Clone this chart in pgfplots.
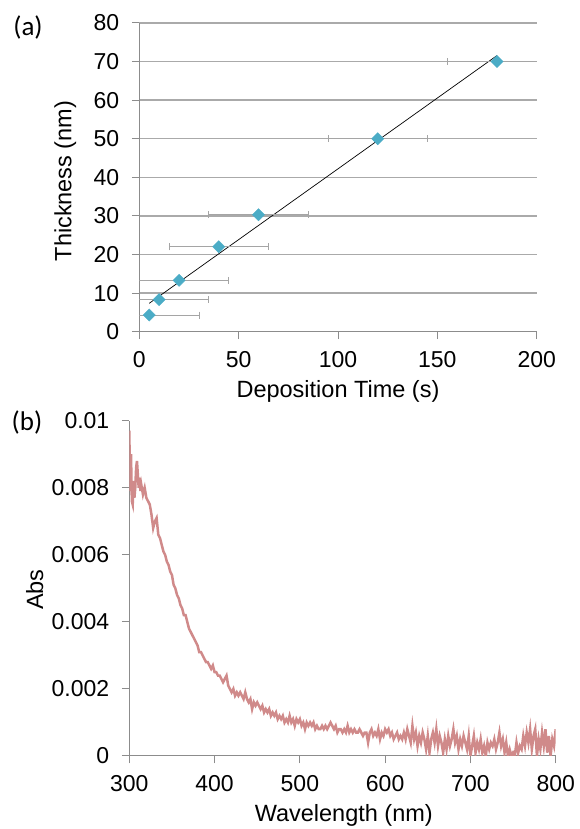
\documentclass[border=0pt]{standalone}
\usepackage{fontspec}
\setmainfont{Liberation Sans}
\newfontfamily\calibri{Carlito}
\usepackage{pgfplots}
\pgfplotsset{compat=1.18}
\definecolor{mkblue}{RGB}{75,172,198}
\definecolor{spec}{RGB}{208,138,138}
\definecolor{gridgray}{RGB}{170,170,170}
\definecolor{axgray}{RGB}{140,140,140}
\definecolor{errgray}{RGB}{165,165,165}
\begin{document}
\begin{tikzpicture}
\useasboundingbox (0,0) rectangle (579pt,829pt);
% ---------- (a) ----------
\begin{axis}[
  at={(139.3pt,497.3pt)}, anchor=south west,
  scale only axis, width=397.4pt, height=308.8pt,
  xmin=0, xmax=200, ymin=0, ymax=80,
  xtick={0,50,100,150,200}, ytick={0,10,...,80},
  axis lines*=left,
  axis line style={axgray, line width=1pt},
  tick style={axgray, line width=1pt},
  tick align=outside, major tick length=7.5pt,
  ymajorgrids, grid style={gridgray, line width=1.5pt},
  /pgf/number format/assume math mode=true,
  tick label style={font=\fontsize{23}{27}\selectfont},
  xticklabel style={yshift=-9pt},
  yticklabel style={xshift=-9pt},
  xlabel={Deposition Time (s)},
  ylabel={Thickness (nm)},
  label style={font=\fontsize{23.5}{27}\selectfont},
  xlabel style={at={(axis description cs:0.5,-0.195)}, anchor=center},
  ylabel style={at={(axis description cs:-0.186,0.488)}, anchor=center},
  clip mode=individual,
]
\addplot[black, line width=0.7pt, no marks] coordinates {(5,7.35) (180,71.54)};
\addplot[only marks, mark=square*, mark size=4.3pt,
  mark options={rotate=45, fill=mkblue, draw=mkblue},
  error bars/.cd, x dir=both, x explicit,
  error bar style={errgray, line width=0.8pt},
  error mark options={errgray, line width=0.8pt, mark size=3.5pt, rotate=90}]
coordinates {
 (5,4.3) +- (25,0)
 (10,8.3) +- (25,0)
 (20,13.3) +- (25,0)
 (40,22) +- (25,0)
 (60,30.3) +- (25,0)
 (120,50) +- (25,0)
 (180,70) +- (25,0)
};
\end{axis}
\node[font=\calibri\fontsize{27}{30}\selectfont] at (28pt,801pt) {(a)};
% ---------- (b) ----------
\begin{axis}[
  at={(129.3pt,73pt)}, anchor=south west,
  scale only axis, width=426.4pt, height=335.3pt,
  xmin=300, xmax=800, ymin=0, ymax=0.01,
  xtick={300,400,...,800},
  ytick={0,0.002,0.004,0.006,0.008,0.01},
  yticklabels={0,0.002,0.004,0.006,0.008,0.01},
  scaled y ticks=false,
  axis lines*=left,
  axis line style={axgray, line width=1pt},
  tick style={axgray, line width=1pt},
  tick align=outside, major tick length=7.5pt,
  /pgf/number format/assume math mode=true,
  tick label style={font=\fontsize{23}{27}\selectfont},
  xticklabel style={yshift=-8pt},
  yticklabel style={xshift=-9pt},
  xlabel={Wavelength (nm)},
  ylabel={Abs},
  label style={font=\fontsize{23.5}{27}\selectfont},
  xlabel style={at={(axis description cs:0.503,-0.178)}, anchor=center},
  ylabel style={at={(axis description cs:-0.222,0.496)}, anchor=center},
]
\addplot[spec, line width=2.5pt, no marks] coordinates {
(300,0.0097)(301,0.0079)(302,0.0090)(303,0.0076)(304,0.0075)(305,0.0082)(306,0.0077)(307,0.0080)(308,0.0086)(309,0.0088)
(310,0.0084)(311,0.0080)(312,0.0083)(313,0.0079)(314,0.0081)(316,0.0078)(318,0.0080)(320,0.0077)(322,0.0076)(324,0.0075)
(326,0.0072)(328,0.0068)(330,0.0070)(332,0.0071)(334,0.0066)(336,0.0065)(338,0.0063)(340,0.0061)(342,0.0060)(344,0.0058)
(346,0.0057)(348,0.0055)(350,0.0054)(352,0.0051)(354,0.0050)(356,0.0048)(358,0.0047)(360,0.0045)(362,0.0044)(364,0.0042)
(366,0.0042)(368,0.0040)(370,0.0038)(372,0.0037)(374,0.0036)(376,0.0035)(378,0.0034)(380,0.0033)(382,0.0031)(384,0.0031)
(386,0.0030)(388,0.0029)(390,0.0028)(392,0.0028)(394,0.0027)(396,0.0026)(398,0.0027)(400,0.0025)(402,0.0025)(404,0.0024)
(406,0.0024)(408,0.0023)(410,0.0022)(412,0.0023)(414,0.0024)(416,0.0021)(418,0.0020)(420,0.0019)(422,0.0020)(424,0.0018)
(426,0.0019)(428,0.0018)(430,0.0019)(432,0.0018)(434,0.0017)(436,0.0019)(438,0.0017)(440,0.0016)(442,0.0017)(444,0.0014)
(446,0.0016)(448,0.0015)(450,0.0016)(452,0.0015)(454,0.0014)(456,0.0015)(458,0.0013)(460,0.0014)(462,0.0013)(464,0.0014)
(466,0.0012)(468,0.0013)(470,0.0012)(472,0.0013)(474,0.0011)(476,0.0012)(478,0.0011)(480,0.0012)(482,0.0010)(484,0.0011)
(486,0.0010)(488,0.0012)(490,0.0010)(492,0.0011)(494,0.0009)(496,0.0011)(498,0.0010)(500,0.0011)(502,0.0009)(504,0.0010)
(506,0.0008)(508,0.0010)(510,0.0009)(512,0.0010)(514,0.0009)(516,0.0010)(518,0.0008)(520,0.0009)(522,0.0008)(524,0.0008)
(526,0.0009)(528,0.0008)(530,0.0009)(532,0.0008)(534,0.0009)(536,0.0010)(538,0.0009)(540,0.0008)(542,0.0009)(544,0.0007)
(546,0.0008)(548,0.0008)(550,0.0007)(552,0.0008)(554,0.0007)(556,0.0009)(558,0.0007)(560,0.0008)(562,0.0007)(564,0.0008)
(566,0.0007)(568,0.0007)(570,0.0008)(572,0.0007)(574,0.0006)(576,0.0007)(578,0.0007)(580,0.0004)(582,0.0007)(584,0.0008)
(586,0.0006)(588,0.0007)(590,0.0006)(592,0.0008)(594,0.0005)(596,0.0007)(598,0.0006)(600,0.0008)(602,0.0007)(604,0.0008)
(606,0.0006)(608,0.0007)(610,0.0005)(612,0.0006)(614,0.0007)(616,0.0005)(618,0.0006)(620,0.0005)(622,0.0007)(624,0.0005)
(626,0.0008)(628,0.0006)(630,0.0004)(632,0.0009)(634,0.0005)(636,0.0007)(638,0.0003)(640,0.0006)(642,0.0004)(644,0.0007)
(646,0.0005)(648,0.0002)(650,0.0006)(652,0.0001)(654,0.0005)(656,0.0007)(658,0.0004)(660,0.0008)(662,0.0003)(664,0.0006)
(666,0.0004)(668,0.0001)(670,0.0005)(672,0.0002)(674,0.0006)(676,0.0003)(678,0.0005)(680,0.0008)(682,0.0004)(684,0.0006)
(686,0.0002)(688,0.0005)(690,0.0003)(692,0.0006)(694,0.0004)(696,0.0002)(698,0.0006)(700,0.0000)(702,0.0003)(704,0.0006)
(706,0.0001)(708,0.0004)(710,0.0002)(712,0.0005)(714,0.0001)(716,0.0003)(718,0.0000)(720,0.0004)(722,0.0002)(724,0.0004)
(726,0.0003)(728,0.0005)(730,0.0002)(732,0.0004)(734,0.0007)(736,0.0003)(738,0.0005)(740,0.0001)(742,0.0004)(744,0.0000)
(746,0.0002)(748,0.0000)(750,0.0001)(752,0.0000)(754,0.0004)(756,0.0001)(758,0.0003)(760,0.0002)(762,0.0006)(764,0.0003)
(766,0.0007)(768,0.0004)(770,0.0008)(772,0.0002)(774,0.0006)(776,0.0008)(778,0.0000)(780,0.0005)(782,0.0002)(784,0.0007)
(786,0.0003)(788,0.0008)(790,0.0001)(792,0.0006)(794,0.0000)(796,0.0005)(798,0.0003)(800,0.0008)
};
\end{axis}
\node[font=\calibri\fontsize{27}{30}\selectfont] at (27pt,406pt) {(b)};
\end{tikzpicture}
\end{document}
